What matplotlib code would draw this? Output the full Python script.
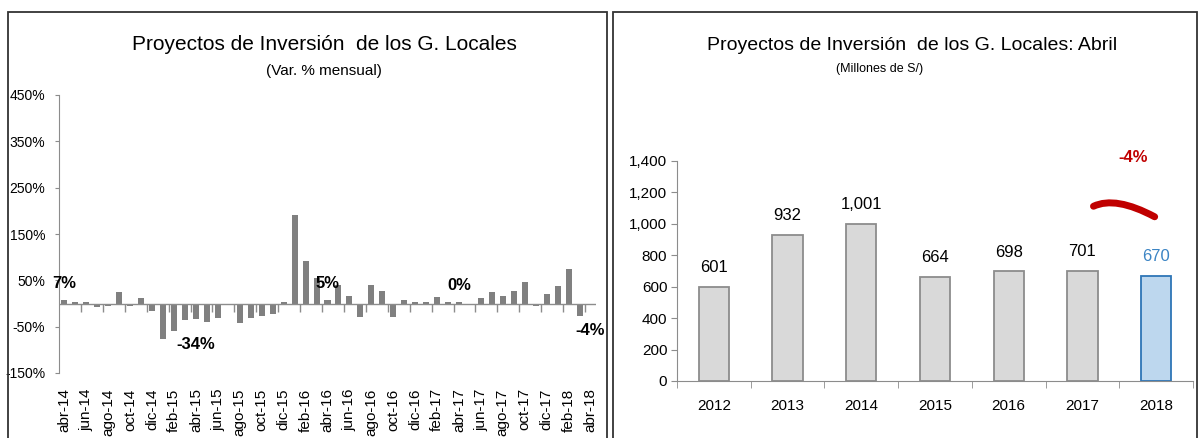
import numpy as np
import matplotlib
matplotlib.use("Agg")
import matplotlib.pyplot as plt
from matplotlib.patches import Rectangle, PathPatch
from matplotlib.path import Path
from matplotlib.ticker import FuncFormatter, FixedLocator
import matplotlib.markers as mmarkers

plt.rcParams['font.family'] = ['Liberation Sans', 'DejaVu Sans']

# ---- data ----
month_ticks = ['abr-14', 'jun-14', 'ago-14', 'oct-14', 'dic-14', 'feb-15', 'abr-15',
               'jun-15', 'ago-15', 'oct-15', 'dic-15', 'feb-16', 'abr-16', 'jun-16',
               'ago-16', 'oct-16', 'dic-16', 'feb-17', 'abr-17', 'jun-17', 'ago-17',
               'oct-17', 'dic-17', 'feb-18', 'abr-18']
monthly_var = [7, 4, 4, -8, -5, 24, -5, 11, -16, -76, -59, -36, -34, -40, -32, -4,
               -42, -32, -28, -22, 4, 190, 92, 55, 7, 41, 17, -29, 40, 28, -29, 7,
               4, 4, 14, 4, 3, -4, 11, 24, 17, 27, 47, -5, 20, 37, 74, -26, -4]
years = ['2012', '2013', '2014', '2015', '2016', '2017', '2018']
april_values = [601, 932, 1001, 664, 698, 701, 670]

# April year-on-year changes (2014 onwards), shown over the April bars
april_yoy = [round((april_values[i] / april_values[i - 1] - 1) * 100) for i in range(2, len(april_values))]
april_idx = [12 * k for k in range(len(april_yoy))]

AX_GRAY = '#8C8C8C'
W, H = 1198, 438

fig = plt.figure(figsize=(W / 100, H / 100), dpi=100)

# panel frames
for x0, x1 in [(8, 607), (613, 1197)]:
    fig.patches.append(Rectangle((x0 / W, -0.2), (x1 - x0) / W, (H - 12) / H + 0.2,
                                 transform=fig.transFigure, fill=False,
                                 edgecolor='#333333', lw=1.3, clip_on=False))

# ---------------- left panel ----------------
axL = fig.add_axes([59 / W, (H - 373) / H, (596 - 59) / W, (373 - 95) / H])
x = np.arange(len(monthly_var))
axL.bar(x, monthly_var, width=0.55, color='#808080', zorder=2)
axL.set_xlim(-0.5, len(monthly_var) - 0.5)
axL.set_ylim(-150, 450)
axL.set_yticks(np.arange(-150, 451, 100))
axL.yaxis.set_major_formatter(FuncFormatter(lambda v, p: f'{int(v)}%'))
for s in ['top', 'right', 'bottom']:
    axL.spines[s].set_visible(False)
axL.spines['left'].set_color(AX_GRAY)
axL.tick_params(axis='y', length=3, color=AX_GRAY, labelsize=10, pad=7)
axL.axhline(0, color=AX_GRAY, lw=1, zorder=3)
boundaries = np.arange(1.5, len(monthly_var) - 1, 2)
axL.plot(boundaries, np.zeros_like(boundaries), ls='none', marker=mmarkers.TICKDOWN,
         ms=6, mew=1, color=AX_GRAY, zorder=3, clip_on=False)
axL.set_xticks(x[::2])
axL.set_xticklabels(month_ticks, rotation=90, fontsize=11)
axL.tick_params(axis='x', length=0, pad=11)

for i, v in zip(april_idx, april_yoy):
    bar_v = monthly_var[i]
    off = 17 if v >= 0 else -25
    axL.annotate(f'{v}%', (x[i], bar_v), xytext=(0, off), textcoords='offset pixels',
                 ha='center', va='center', fontsize=12, fontweight='bold', zorder=4)

fig.text(324 / W, (H - 45) / H, 'Proyectos de Inversión  de los G. Locales',
         ha='center', va='center', fontsize=15)
fig.text(324 / W, (H - 71) / H, '(Var. % mensual)', ha='center', va='center', fontsize=11)

# ---------------- right panel ----------------
axR = fig.add_axes([677 / W, (H - 381) / H, (1193 - 677) / W, (381 - 161) / H])
xr = np.arange(len(years))
fills = ['#D9D9D9'] * (len(years) - 1) + ['#BDD7EE']
edges = ['#8C8C8C'] * (len(years) - 1) + ['#2E75B6']
axR.bar(xr, april_values, width=0.41, color=fills, edgecolor=edges, lw=1.3, zorder=2)
axR.set_xlim(-0.5, len(years) - 0.5)
axR.set_ylim(0, 1400)
axR.set_yticks(np.arange(0, 1401, 200))
axR.yaxis.set_major_formatter(FuncFormatter(lambda v, p: f'{int(v):,}'))
for s in ['top', 'right']:
    axR.spines[s].set_visible(False)
for s in ['left', 'bottom']:
    axR.spines[s].set_color(AX_GRAY)
axR.tick_params(axis='y', length=4, color=AX_GRAY, labelsize=11, pad=3)
axR.set_xticks(xr)
axR.set_xticklabels(years, fontsize=11)
axR.xaxis.set_minor_locator(FixedLocator(np.arange(-0.5, len(years), 1)))
axR.tick_params(axis='x', which='major', length=0, pad=13)
axR.tick_params(axis='x', which='minor', length=5, color=AX_GRAY)

for i, v in enumerate(april_values):
    axR.annotate(f'{v:,}', (xr[i], v), xytext=(0, 19), textcoords='offset pixels',
                 ha='center', va='center', fontsize=12,
                 color='#3B84C4' if i == len(years) - 1 else 'black')

# change between the last two years
i0, i1 = xr[-2], xr[-1]
arc = Path([(i0 + 0.15, 1112), (i0 + 0.45, 1178), (i1 - 0.02, 1045)],
           [Path.MOVETO, Path.CURVE3, Path.CURVE3])
axR.add_patch(PathPatch(arc, fill=False, edgecolor='#C00000', lw=5,
                        capstyle='round', clip_on=False, zorder=4))
axR.text((i0 + i1) / 2 + 0.19, 1420, f'{april_yoy[-1]}%', ha='center', va='center',
         fontsize=12, fontweight='bold', color='#C00000', clip_on=False)

fig.text(912 / W, (H - 45) / H, 'Proyectos de Inversión  de los G. Locales: Abril',
         ha='center', va='center', fontsize=14)
fig.text(880 / W, (H - 69) / H, '(Millones de S/)', ha='center', va='center', fontsize=9)

fig.savefig('out.png', dpi=100)
